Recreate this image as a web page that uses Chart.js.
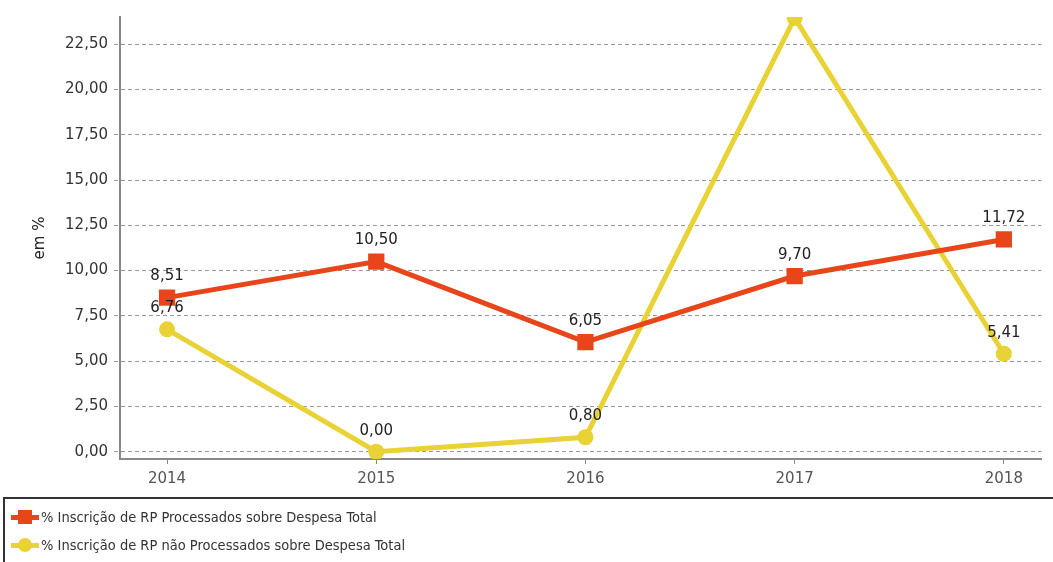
<!DOCTYPE html>
<html>
<head>
<meta charset="utf-8">
<script src="https://cdn.jsdelivr.net/npm/chart.js@4/dist/chart.umd.min.js"></script>
<style>
    body { margin: 0; background: #fff; width: 1053px; height: 562px; overflow: hidden; position: relative; }
    #wrap { position: absolute; left: 0; top: 0; width: 1053px; height: 498px; }
    #legend {
        position: absolute; left: 3px; top: 497px; width: 1060px; height: 70px;
        border: 2px solid #333; box-sizing: border-box;
        font-family: "DejaVu Sans Condensed", "DejaVu Sans", sans-serif; font-size: 14.5px; color: #333;
    }
    .item { position: absolute; left: 4px; height: 20px; display: flex; align-items: center; }
    .icon { position: relative; width: 30px; height: 20px; margin-right: 2px; }
    .icon .ln { position: absolute; left: 2px; right: 0; top: 8px; height: 5px; }
    .icon .mk { position: absolute; left: 9px; top: 3px; width: 14px; height: 14px; }
</style>
</head>
<body>
<div id="wrap"><canvas id="chart" width="1053" height="498"></canvas></div>
<div id="legend">
    <div class="item" style="top:8px">
        <div class="icon"><div class="ln" style="background:#e8461a"></div><div class="mk" style="background:#e8461a"></div></div>
        <span>% Inscrição de RP Processados sobre Despesa Total</span>
    </div>
    <div class="item" style="top:36px">
        <div class="icon"><div class="ln" style="background:#e8d236"></div><div class="mk" style="background:#e8d236;border-radius:50%"></div></div>
        <span>% Inscrição de RP não Processados sobre Despesa Total</span>
    </div>
</div>
<script>
// dados
const anos = [2014, 2015, 2016, 2017, 2018];
const rpProcessados = [8.51, 10.50, 6.05, 9.70, 11.72];
const rpNaoProcessados = [6.76, 0.00, 0.80, 23.95, 5.41];
const yTicks = [0, 2.5, 5, 7.5, 10, 12.5, 15, 17.5, 20, 22.5];

const vermelho = '#e8461a';
const amarelo = '#e8d236';

function fmt(v) {
    return v.toFixed(2).replace('.', ',');
}

// rótulos de valor acima dos pontos
const rotulos = {
    id: 'rotulos',
    afterDatasetsDraw(chart) {
        const ctx = chart.ctx;
        ctx.save();
        ctx.font = '15px "DejaVu Sans", sans-serif';
        ctx.fillStyle = '#222';
        ctx.textAlign = 'center';
        ctx.textBaseline = 'middle';
        chart.data.datasets.forEach((ds, i) => {
            chart.getDatasetMeta(i).data.forEach((pt, j) => {
                const y = pt.y - 21;
                if (y < chart.chartArea.top) return;
                ctx.fillText(fmt(ds.data[j].y), pt.x, y);
            });
        });
        ctx.restore();
    }
};

new Chart(document.getElementById('chart'), {
    type: 'line',
    data: {
        datasets: [{
            label: '% Inscrição de RP Processados sobre Despesa Total',
            data: anos.map((a, i) => ({ x: a, y: rpProcessados[i] })),
            borderColor: vermelho,
            backgroundColor: vermelho,
            borderWidth: 5,
            pointStyle: 'rect',
            pointRadius: 11.5,
            pointBorderWidth: 0,
            tension: 0,
            clip: 0
        }, {
            label: '% Inscrição de RP não Processados sobre Despesa Total',
            data: anos.map((a, i) => ({ x: a, y: rpNaoProcessados[i] })),
            borderColor: amarelo,
            backgroundColor: amarelo,
            borderWidth: 5,
            pointStyle: 'circle',
            pointRadius: 8,
            pointBorderWidth: 0,
            tension: 0,
            clip: 0
        }]
    },
    options: {
        responsive: false,
        animation: false,
        layout: { padding: { top: 17, right: 1, left: 0, bottom: 0 } },
        plugins: {
            legend: { display: false },
            tooltip: { enabled: false }
        },
        scales: {
            x: {
                type: 'linear',
                min: 2013.775,
                max: 2018.18,
                afterBuildTicks: (scale) => { scale.ticks = anos.map(a => ({ value: a })); },
                afterFit: (scale) => { scale.height = 39; },
                border: { display: true, color: '#888', width: 2 },
                grid: { display: true, drawOnChartArea: false, tickLength: 5, color: '#888' },
                ticks: {
                    color: '#555',
                    padding: 6,
                    font: { family: '"DejaVu Sans", sans-serif', size: 15 },
                    callback: (v) => String(v)
                }
            },
            y: {
                min: -0.4,
                max: 24.0,
                afterBuildTicks: (scale) => { scale.ticks = yTicks.map(v => ({ value: v })); },
                afterFit: (scale) => { scale.width = 120; },
                border: { display: true, color: '#888', width: 2, dash: [4, 3] },
                grid: {
                    color: '#999',
                    lineWidth: 1,
                    tickLength: 6,
                    tickBorderDash: [4, 3]
                },
                ticks: {
                    color: '#333',
                    padding: 6,
                    font: { family: '"DejaVu Sans", sans-serif', size: 15 },
                    callback: (v) => fmt(v)
                },
                title: {
                    display: true,
                    text: 'em %',
                    color: '#222',
                    padding: { top: 31, bottom: 0 },
                    font: { family: '"DejaVu Sans", sans-serif', size: 15 }
                }
            }
        }
    },
    plugins: [rotulos]
});
</script>
</body>
</html>
